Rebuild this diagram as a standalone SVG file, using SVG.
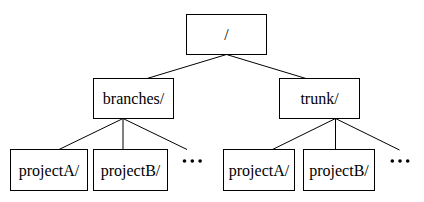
<svg xmlns="http://www.w3.org/2000/svg" width="424" height="202" viewBox="0 0 424 202">
<style>
rect{fill:#fff;stroke:#000;stroke-width:1}
text{font-family:"Liberation Serif","Times New Roman",serif;font-size:16px;fill:#000;text-anchor:middle}
.e line{stroke:#000;stroke-width:1}
.dot{fill:#000}
</style>
<rect x="0" y="0" width="424" height="202" style="stroke:none"/>
<g class="e" id="connectors">
<line x1="226.5" y1="54.5" x2="147" y2="78.5"/>
<line x1="226.5" y1="54.5" x2="306" y2="78.5"/>
<line x1="123" y1="118.5" x2="59" y2="149.5"/>
<line x1="123" y1="118.5" x2="123" y2="149.5"/>
<line x1="123" y1="118.5" x2="187" y2="149.5"/>
<line x1="335.5" y1="118.5" x2="272.5" y2="149.5"/>
<line x1="335.5" y1="118.5" x2="335.5" y2="149.5"/>
<line x1="335.5" y1="118.5" x2="399.5" y2="150"/>
</g>
<g id="root"><rect x="186.5" y="14.5" width="80" height="40"/><text x="226.5" y="40">/</text></g>
<g id="branches"><rect x="93.5" y="78.5" width="80" height="40"/><text x="133.5" y="104">branches/</text></g>
<g id="trunk"><rect x="279.5" y="78.5" width="80" height="40"/><text x="319.5" y="104">trunk/</text></g>
<g id="b-projectA"><rect x="10.5" y="149.5" width="77" height="41"/><text x="49" y="176">projectA/</text></g>
<g id="b-projectB"><rect x="93.5" y="149.5" width="74" height="41"/><text x="130.5" y="176">projectB/</text></g>
<g id="b-more"><circle class="dot" cx="184.5" cy="161" r="1.8"/><circle class="dot" cx="192.3" cy="161" r="1.8"/><circle class="dot" cx="200.1" cy="161" r="1.8"/></g>
<g id="t-projectA"><rect x="223.5" y="149.5" width="71" height="41"/><text x="259" y="176">projectA/</text></g>
<g id="t-projectB"><rect x="303.5" y="149.5" width="71" height="41"/><text x="339" y="176">projectB/</text></g>
<g id="t-more"><circle class="dot" cx="392.3" cy="161" r="1.8"/><circle class="dot" cx="400" cy="161" r="1.8"/><circle class="dot" cx="407.7" cy="161" r="1.8"/></g>
</svg>
